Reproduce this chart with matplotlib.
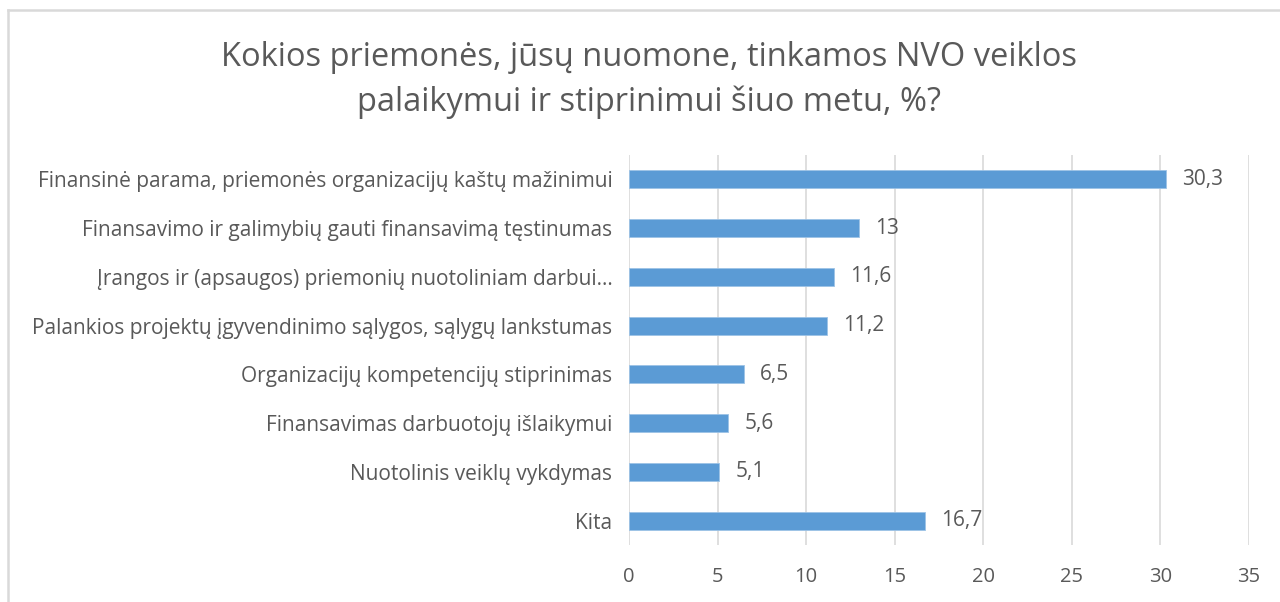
import matplotlib
matplotlib.use("Agg")
import matplotlib.pyplot as plt
from matplotlib.lines import Line2D

categories = [
    "Finansinė parama, priemonės organizacijų kaštų mažinimui",
    "Finansavimo ir galimybių gauti finansavimą tęstinumas",
    "Įrangos ir (apsaugos) priemonių nuotoliniam darbui...",
    "Palankios projektų įgyvendinimo sąlygos, sąlygų lankstumas",
    "Organizacijų kompetencijų stiprinimas",
    "Finansavimas darbuotojų išlaikymui",
    "Nuotolinis veiklų vykdymas",
    "Kita",
]
values = [30.3, 13, 11.6, 11.2, 6.5, 5.6, 5.1, 16.7]
value_labels = ["30,3", "13", "11,6", "11,2", "6,5", "5,6", "5,1", "16,7"]
xticks = [0, 5, 10, 15, 20, 25, 30, 35]
title = "Kokios priemonės, jūsų nuomone, tinkamos NVO veiklos\npalaikymui ir stiprinimui šiuo metu, %?"

plt.rcParams['font.family'] = ['Open Sans', 'DejaVu Sans']
text_color = "#595959"
bar_color = "#5B9BD5"

fig = plt.figure(figsize=(12.8, 6.02), dpi=100)
ax = fig.add_axes([629/1280, 57/602, 620/1280, 390/602])

y = list(range(len(categories)))
ax.barh(y, values, height=0.37, color=bar_color, edgecolor="#9DC3E6", linewidth=0.6, zorder=3)
for yi, v, lab in zip(y, values, value_labels):
    ax.text(v + 0.9, yi, lab, va="center", ha="left", fontsize=15, color=text_color)

ax.set_xlim(0, 35)
ax.set_ylim(len(categories) - 0.5, -0.5)
ax.set_xticks(xticks)
ax.set_xticklabels([str(t) for t in xticks])
ax.set_yticks(y)
ax.set_yticklabels(categories)
ax.tick_params(axis="both", length=0, colors=text_color)
ax.tick_params(axis="x", pad=16, labelsize=14.5)
ax.tick_params(axis="y", pad=12, labelsize=15)
ax.xaxis.grid(True, color="#D9D9D9", linewidth=1.2, zorder=0)
for s in ax.spines.values():
    s.set_visible(False)

fig.suptitle(title, x=649/1280, y=1 - 41/602, fontsize=23.5, color=text_color, va="top", linespacing=1.45)

# chart border (top and left edges visible)
fig.add_artist(Line2D([8/1280, 1], [1 - 10/602, 1 - 10/602], transform=fig.transFigure, color="#D9D9D9", linewidth=1.8))
fig.add_artist(Line2D([8/1280, 8/1280], [0, 1 - 10/602], transform=fig.transFigure, color="#D9D9D9", linewidth=1.8))

fig.savefig("out.png", dpi=100, facecolor="white")
